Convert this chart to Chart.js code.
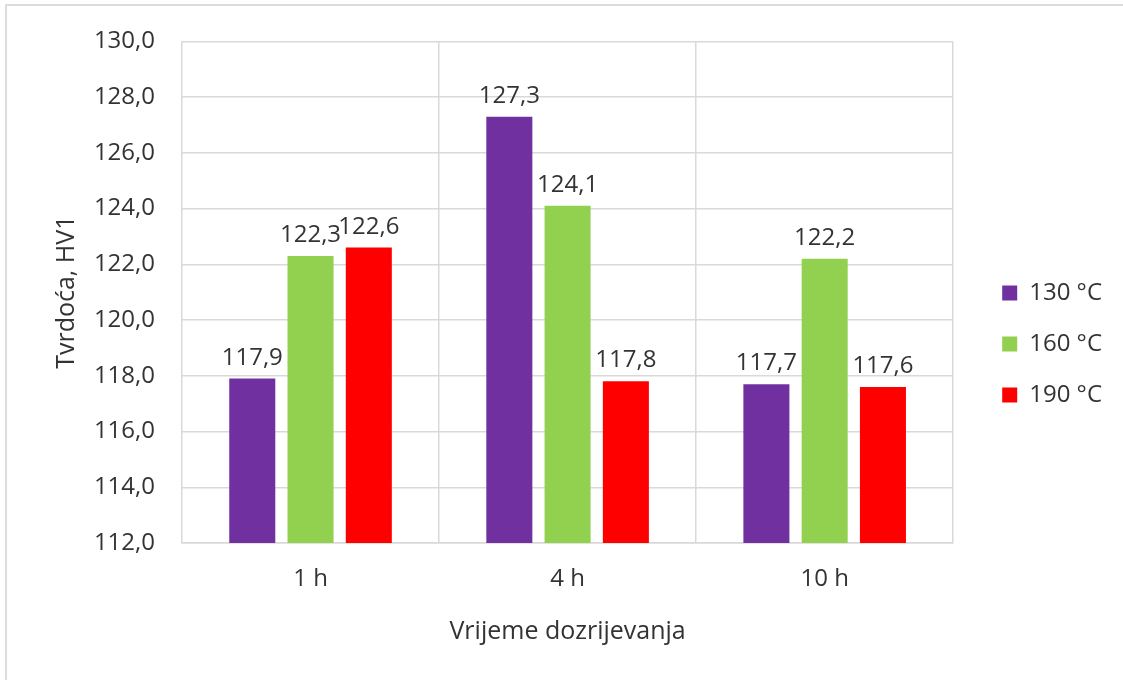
<!DOCTYPE html>
<html>
<head>
<meta charset="utf-8">
<script src="https://cdn.jsdelivr.net/npm/chart.js@4"></script>
<style>
  body { margin: 0; background: #fff; overflow: hidden; }
  #okvir { position: relative; width: 1123px; height: 680px; }
  #rub { position: absolute; left: 5px; top: 4px; width: 1300px; height: 900px;
         border-left: 2px solid #dcdcdc; border-top: 2px solid #dcdcdc; }
  #graf { position: absolute; left: 0; top: 0; }
</style>
</head>
<body>
<div id="okvir">
  <div id="rub"></div>
  <canvas id="graf" width="1123" height="680"></canvas>
</div>
<script>
var vrijeme = ['1 h', '4 h', '10 h']
var temp130 = [117.9, 127.3, 117.7]
var temp160 = [122.3, 124.1, 122.2]
var temp190 = [122.6, 117.8, 117.6]
var nazivi = ['130 °C', '160 °C', '190 °C']
var boje = ['#7030A0', '#92D050', '#FF0000']
var osY = { min: 112, max: 130, korak: 2 }

var font = '"Open Sans", "Noto Sans", sans-serif'
var bojaTeksta = '#333333'
var bojaMreze = '#d9d9d9'

function zarez(v) {
  return v.toFixed(1).replace('.', ',')
}

// vrijednosti iznad stupaca
var oznake = {
  id: 'oznake',
  afterDatasetsDraw(chart) {
    var ctx = chart.ctx
    ctx.save()
    ctx.font = '24px ' + font
    ctx.fillStyle = bojaTeksta
    ctx.textAlign = 'center'
    ctx.textBaseline = 'alphabetic'
    chart.data.datasets.forEach(function (ds, i) {
      chart.getDatasetMeta(i).data.forEach(function (stupac, j) {
        ctx.fillText(zarez(ds.data[j]), stupac.x, stupac.y - 14)
      })
    })
    ctx.restore()
  }
}

var serije = [temp130, temp160, temp190]
var skupovi = []
for (var i = 0; i < serije.length; i++) {
  skupovi.push({
    label: nazivi[i],
    data: serije[i],
    backgroundColor: boje[i],
    borderWidth: 0,
    barPercentage: 0.79,
    categoryPercentage: 0.68
  })
}

var ctx = document.getElementById('graf')

var grafTvrdoca = new Chart(ctx, {
  type: 'bar',
  data: {
    labels: vrijeme,
    datasets: skupovi
  },
  plugins: [oznake],
  options: {
    responsive: false,
    animation: false,
    layout: {
      padding: { left: 42, top: 41, right: 11, bottom: 33 }
    },
    plugins: {
      tooltip: { enabled: false },
      legend: {
        position: 'right',
        labels: {
          boxWidth: 15,
          boxHeight: 15,
          padding: 27,
          color: bojaTeksta,
          font: { family: font, size: 24 }
        }
      }
    },
    scales: {
      x: {
        grid: { color: bojaMreze, lineWidth: 1.5, drawTicks: false, offset: true },
        border: { color: bojaMreze, width: 1.5 },
        ticks: { color: bojaTeksta, padding: 22, font: { family: font, size: 24 } },
        title: {
          display: true,
          text: 'Vrijeme dozrijevanja',
          color: bojaTeksta,
          padding: { top: 22, bottom: 0 },
          font: { family: font, size: 25 }
        },
        afterFit: function (s) { s.height = 104 }
      },
      y: {
        min: osY.min,
        max: osY.max,
        grid: { color: bojaMreze, lineWidth: 1.5, drawTicks: false },
        border: { display: false },
        ticks: {
          stepSize: osY.korak,
          color: bojaTeksta,
          padding: 27,
          font: { family: font, size: 24 },
          callback: function (v) { return zarez(v) }
        },
        title: {
          display: true,
          text: 'Tvrdoća, HV1',
          color: bojaTeksta,
          padding: { top: 10, bottom: 10 },
          font: { family: font, size: 25 }
        },
        afterFit: function (s) { s.width = 140 }
      },
      razmak: {
        type: 'linear',
        position: 'right',
        grid: { display: false },
        border: { display: false },
        ticks: { display: false },
        afterFit: function (s) { s.width = 22 }
      }
    }
  }
})
</script>
</body>
</html>
